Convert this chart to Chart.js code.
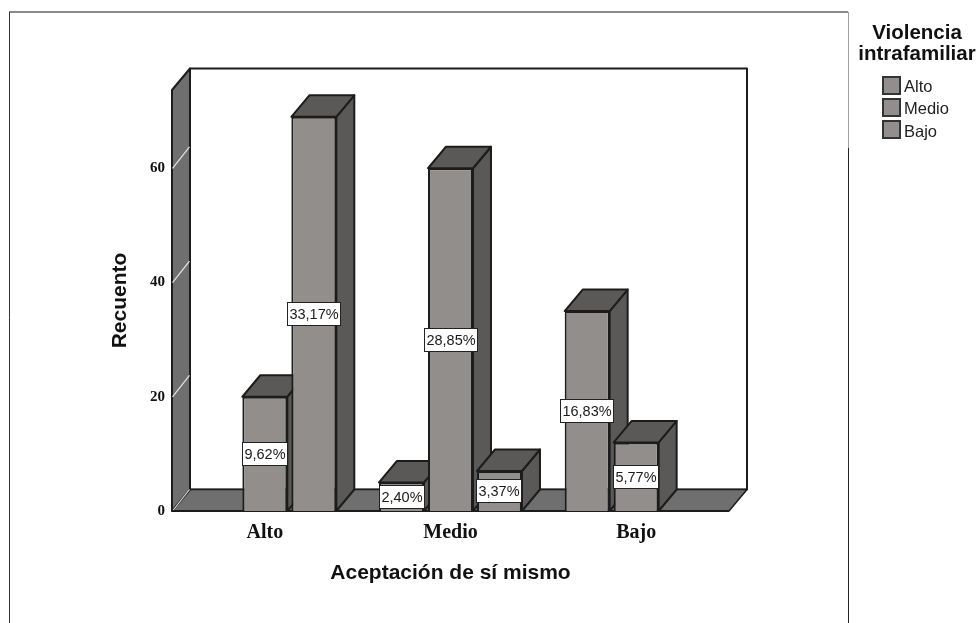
<!DOCTYPE html>
<html>
<head>
<meta charset="utf-8">
<style>html,body{margin:0;padding:0;background:#fff}canvas{display:block}</style>
<script src="https://cdn.jsdelivr.net/npm/chart.js@4"></script>
</head>
<body>
<canvas id="c" width="978" height="623"></canvas>
<script>
const categories = ['Alto', 'Medio', 'Bajo'];
const seriesNames = ['Alto', 'Medio', 'Bajo'];
const valuesAlto = [null, 5, 35];
const valuesMedio = [20, 60, 12];
const valuesBajo = [69, 7, null];
const percentAlto = [null, '2,40%', '16,83%'];
const percentMedio = ['9,62%', '28,85%', '5,77%'];
const percentBajo = ['33,17%', '3,37%', null];
const tickStep = 20;
const axisMax = 73.7;
const xTitle = 'Aceptación de sí mismo';
const yTitle = 'Recuento';
const legendTitle = ['Violencia', 'intrafamiliar'];

const DX = 18, DY = 21.5;
const FRONT = '#928e8c', DARK = '#5b5957', WALL = '#6f6f6f', LINE = '#1c1c1c';
const SANS = '"Liberation Sans", Arial, sans-serif';
const SERIF = '"Liberation Serif", "Times New Roman", serif';
const percents = [percentAlto, percentMedio, percentBajo];

function poly(ctx, pts, fill, stroke, lw) {
  ctx.beginPath();
  pts.forEach((p, i) => i ? ctx.lineTo(p[0], p[1]) : ctx.moveTo(p[0], p[1]));
  ctx.closePath();
  if (fill) { ctx.fillStyle = fill; ctx.fill(); }
  if (stroke) { ctx.strokeStyle = stroke; ctx.lineWidth = lw; ctx.lineJoin = 'round'; ctx.stroke(); }
}
function seg(ctx, x1, y1, x2, y2, color, lw) {
  ctx.beginPath(); ctx.moveTo(x1, y1); ctx.lineTo(x2, y2);
  ctx.strokeStyle = color; ctx.lineWidth = lw; ctx.stroke();
}
function liveBars(chart) {
  const list = [];
  chart.data.datasets.forEach((ds, d) => {
    chart.getDatasetMeta(d).data.forEach((el, i) => {
      if (ds.data[i] !== null) list.push({el, d, i});
    });
  });
  return list.sort((a, b) => a.el.x - b.el.x);
}

const scene3d = {
  id: 'scene3d',
  beforeDraw(chart) {
    const ctx = chart.ctx;
    ctx.save();
    seg(ctx, 9, 12, 848, 12, '#8a8a8a', 2);
    seg(ctx, 9.5, 12, 9.5, 623, '#333333', 1);
    seg(ctx, 848.5, 12, 848.5, 148, '#a0a0a0', 1);
    seg(ctx, 848.5, 148, 848.5, 623, '#222222', 1);
    ctx.restore();
  },
  beforeDatasetsDraw(chart) {
    const ctx = chart.ctx, a = chart.chartArea, y = chart.scales.y;
    ctx.save();
    poly(ctx, [[a.left + DX, a.top - DY], [a.right + DX, a.top - DY], [a.right + DX, a.bottom - DY], [a.left + DX, a.bottom - DY]], '#ffffff', LINE, 2);
    poly(ctx, [[a.left, a.bottom], [a.left + DX, a.bottom - DY], [a.right + DX, a.bottom - DY], [a.right, a.bottom]], WALL, LINE, 1.5);
    poly(ctx, [[a.left, a.top], [a.left + DX, a.top - DY], [a.left + DX, a.bottom - DY], [a.left, a.bottom]], WALL, LINE, 2);
    y.ticks.forEach(t => {
      const p = y.getPixelForValue(t.value);
      seg(ctx, a.left + 0.5, p, a.left + DX - 0.5, p - DY, '#e4e4e4', 1.2);
    });
    seg(ctx, a.left, a.bottom, a.right, a.bottom, LINE, 2);
    liveBars(chart).forEach(({el}) => {
      const l = el.x - el.width / 2, r = el.x + el.width / 2, t = el.y, b = el.base;
      poly(ctx, [[r, t], [r + DX, t - DY], [r + DX, b - DY], [r, b]], DARK, LINE, 2);
      poly(ctx, [[l, t], [l + DX, t - DY], [r + DX, t - DY], [r, t]], DARK, LINE, 2);
    });
    ctx.restore();
  },
  afterDatasetsDraw(chart) {
    const ctx = chart.ctx;
    ctx.save();
    ctx.font = '14.5px ' + SANS;
    ctx.textAlign = 'center';
    ctx.textBaseline = 'middle';
    liveBars(chart).forEach(({el, d, i}) => {
      const text = percents[d][i];
      const w = Math.round(ctx.measureText(text).width) + 5, h = 24;
      const cy = Math.round((el.y + el.base) / 2), x0 = Math.round(el.x - w / 2);
      ctx.fillStyle = '#ffffff';
      ctx.fillRect(x0, cy - h / 2, w, h);
      ctx.strokeStyle = '#222222';
      ctx.lineWidth = 1;
      ctx.strokeRect(x0 + 0.5, cy - h / 2 + 0.5, w - 1, h - 1);
      ctx.fillStyle = '#1a1a1a';
      ctx.fillText(text, x0 + w / 2, cy + 1);
    });
    // legend
    ctx.fillStyle = '#111111';
    ctx.font = 'bold 20.5px ' + SANS;
    legendTitle.forEach((s, k) => ctx.fillText(s, 917, 33 + k * 21));
    ctx.textAlign = 'left';
    ctx.font = '16.5px ' + SANS;
    chart.data.datasets.forEach((ds, k) => {
      const top = 77 + k * 22;
      ctx.fillStyle = FRONT;
      ctx.fillRect(883, top, 17, 17);
      ctx.strokeStyle = '#333333';
      ctx.lineWidth = 2;
      ctx.strokeRect(883, top, 17, 17);
      ctx.fillStyle = '#222222';
      ctx.fillText(ds.label, 904, top + 10 + k * 0.5);
    });
    ctx.restore();
  }
};

function dataset(label, data) {
  return { label, data, backgroundColor: FRONT, borderColor: LINE, borderWidth: 2,
           categoryPercentage: 0.7916, barPercentage: 0.918 };
}

new Chart(document.getElementById('c'), {
  type: 'bar',
  data: {
    labels: categories,
    datasets: [
      dataset(seriesNames[0], valuesAlto),
      dataset(seriesNames[1], valuesMedio),
      dataset(seriesNames[2], valuesBajo)
    ]
  },
  plugins: [scene3d],
  options: {
    responsive: false,
    animation: false,
    layout: { padding: { left: 100, right: 249, top: 90, bottom: 30 } },
    plugins: { legend: { display: false }, tooltip: { enabled: false } },
    scales: {
      x: {
        grid: { display: false }, border: { display: false },
        afterFit(s) { s.height = 82; },
        ticks: { color: '#111111', padding: 2, maxRotation: 0, font: { family: SERIF, weight: 'bold', size: 20 } },
        title: { display: true, text: xTitle, color: '#111111', padding: { top: 0, bottom: 7 },
                 font: { family: SANS, weight: 'bold', size: 21 } }
      },
      y: {
        min: 0, max: axisMax,
        grid: { display: false, drawTicks: false }, border: { display: false },
        afterFit(s) { s.width = 72; },
        afterBuildTicks(s) { s.ticks = [0, 1, 2, 3].map(k => ({ value: k * tickStep })); },
        ticks: { color: '#111111', padding: 7, font: { family: SERIF, weight: 'bold', size: 15 } },
        title: { display: true, text: yTitle, color: '#111111', padding: { top: 8, bottom: 0 },
                 font: { family: SANS, weight: 'bold', size: 21 } }
      }
    }
  }
});
</script>
</body>
</html>
